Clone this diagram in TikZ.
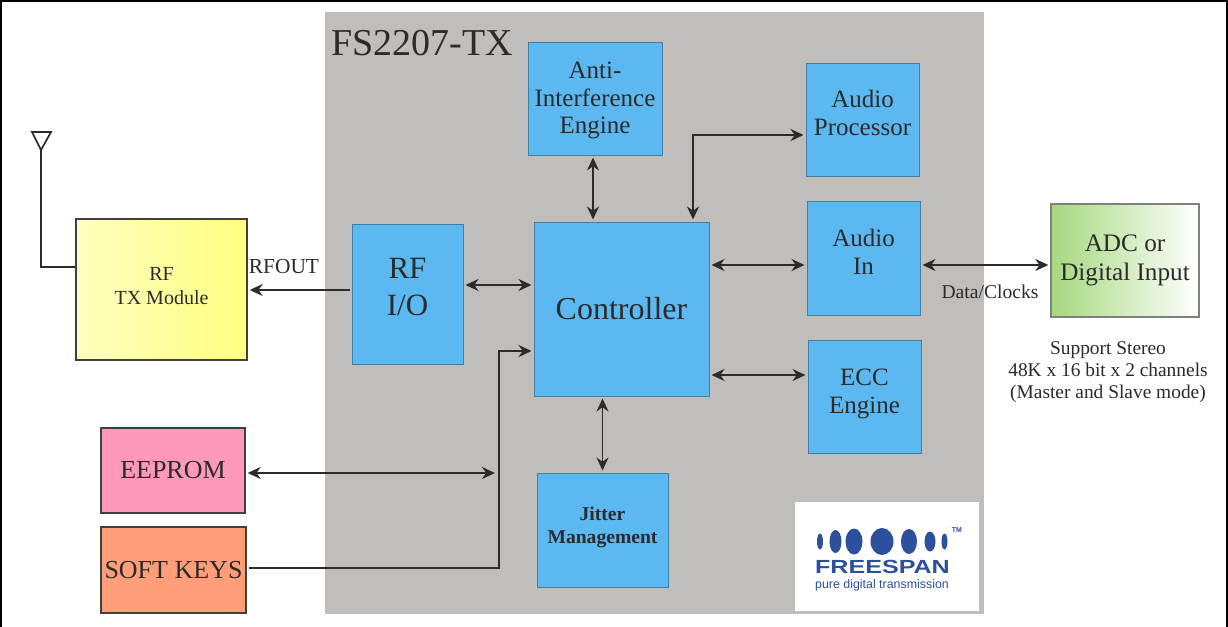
\documentclass[tikz,border=0pt]{standalone}
\usepackage{fontspec}
\setmainfont{Liberation Serif}
\newfontfamily\logofont{Liberation Sans}
\newfontfamily\brandfont[FakeStretch=1.32]{Liberation Sans}
\usetikzlibrary{arrows.meta}
\definecolor{panelgray}{HTML}{C1BDBB}
\definecolor{blockblue}{HTML}{5CB8F0}
\definecolor{blockedge}{HTML}{3E7FA6}
\definecolor{logoblue}{HTML}{2C509C}
\definecolor{linedark}{HTML}{2B2B2B}
\definecolor{txleft}{HTML}{FFFFC0}
\definecolor{txright}{HTML}{FFFF80}
\definecolor{eepromfill}{HTML}{FF99BB}
\definecolor{keysfill}{HTML}{FF9E78}
\definecolor{adcleft}{HTML}{A6D87E}
\newcommand{\liftby}[1]{\rule[-#1]{0pt}{#1}}
\begin{document}
\begin{tikzpicture}[
        x=0.5pt, y=-0.5pt,
        block/.style={rectangle, draw=blockedge, fill=blockblue, align=center, inner sep=0pt, text=linedark, line width=0.5pt, font=\fontsize{12.5}{13.8}\selectfont},
        extbox/.style={rectangle, draw=black!75, align=center, inner sep=0pt, text=linedark, line width=0.7pt},
        line/.style={draw=linedark, {Stealth[length=6.5pt,width=6pt]}-{Stealth[length=6.5pt,width=6pt]}, line width=0.85pt, shorten <=1pt, shorten >=1pt},
        oneway/.style={line, {-Stealth[length=6.5pt,width=6pt]}},
        plain/.style={draw=linedark, line width=0.85pt},
        note/.style={inner sep=0pt, align=center, text=linedark}
    ]
        \useasboundingbox (0,0) rectangle (1228,627);
        \fill [white] (0,0) rectangle (1228,627);
        \node [fill=panelgray, minimum width=329.5pt, minimum height=301pt, inner sep=0pt] (panel) at (654.5,313) {};
        \node [note, font=\fontsize{19}{20}\selectfont] (title) at (422,43) {FS2207-TX};

        \node [block, minimum width=67pt, minimum height=56.5pt] (anti) at (595,98.5) {\rule{0pt}{10.5pt}Anti-\\Interference\\Engine};
        \node [block, minimum width=56.5pt, minimum height=56.5pt] (proc) at (862.5,119.5) {Audio\\Processor\liftby{6.5pt}};
        \node [block, minimum width=56.5pt, minimum height=57pt] (audioin) at (863.5,258) {Audio\\In\liftby{6pt}};
        \node [block, minimum width=56.5pt, minimum height=56.5pt] (ecc) at (864.5,396.5) {ECC\\Engine\liftby{5.1pt}};
        \node [block, minimum width=87.5pt, minimum height=87pt, font=\fontsize{16}{17}\selectfont] (ctrl) at (621.5,309) {Controller};
        \node [block, minimum width=55.5pt, minimum height=70pt, font=\fontsize{15.5}{18.5}\selectfont] (rfio) at (407.5,294) {RF\\I/O\liftby{7.5pt}};
        \node [block, minimum width=65.5pt, minimum height=57pt, font=\fontsize{9.8}{11.5}\selectfont\bfseries] (jitter) at (602.5,530) {Jitter\\Management\liftby{5.2pt}};

        \node [extbox, minimum width=85.5pt, minimum height=70.5pt, left color=txleft, right color=txright, font=\fontsize{10}{12}\selectfont] (txmod) at (161.5,289.5) {RF\\TX Module\liftby{3.5pt}};
        \node [extbox, minimum width=72pt, minimum height=42.5pt, fill=eepromfill, font=\fontsize{13}{15}\selectfont] (eeprom) at (173,470.5) {EEPROM};
        \node [extbox, minimum width=72.5pt, minimum height=43pt, fill=keysfill, font=\fontsize{13}{15}\selectfont] (keys) at (173.5,570) {SOFT KEYS};
        \node [extbox, draw=black!50, minimum width=74pt, minimum height=56.5pt, left color=adcleft, right color=white, font=\fontsize{12.6}{14.5}\selectfont] (adc) at (1125,260.5) {ADC or\\Digital Input};

        \node [note, font=\fontsize{10.7}{12}\selectfont] (rfoutlbl) at (284,267) {RFOUT};
        \node [note, font=\fontsize{9.8}{11}\selectfont] (datalbl) at (990,292) {Data/Clocks};
        \node [note, font=\fontsize{9.7}{11}\selectfont] (stereo) at (1108,372) {Support Stereo\\48K x 16 bit x 2 channels\\(Master and Slave mode)};

        % antenna
        \coordinate (antbase) at (41,150);
        \coordinate (antleft) at (32,132);
        \coordinate (antright) at (51,132);
        \coordinate (antcorner) at (41,267);
        \draw [plain] (antleft) -- (antright) -- (antbase) -- cycle;
        \draw [plain] (antbase) -- (antcorner) -- (txmod.west |- antcorner);

        \path [line] (rfio.east |- 0,285) -- (ctrl.west |- 0,285);
        \path [line] (anti.south -| 593,0) -- (ctrl.north -| 593,0);
        \path [line] (jitter.north) -- (ctrl.south -| jitter.north);
        \coordinate (proccorner) at (693,135);
        \path [line] (ctrl.north -| proccorner) -- (proccorner) -- (proc.west |- proccorner);
        \path [line] (ctrl.east |- 0,265) -- (audioin.west |- 0,265);
        \path [line] (ctrl.east |- 0,375) -- (ecc.west |- 0,375);
        \path [line] (audioin.east |- 0,265) -- (adc.west |- 0,265);
        \path [oneway] (rfio.west |- 0,290) -- (txmod.east |- 0,290);

        \coordinate (keycorner) at (499,568);
        \coordinate (eepromend) at (497,473);
        \path [line] (eeprom.east |- eepromend) -- (eepromend);
        \path [oneway] (keys.east |- keycorner) -- (keycorner) -- (keycorner |- 0,351) -- (ctrl.west |- 0,351);

        % logo
        \node [fill=white, minimum width=92pt, minimum height=54.5pt, inner sep=0pt] (logo) at (887,556.5) {};
        \foreach \cx/\rx/\ry in {820/3/8, 835.5/6/11.5, 854/8.5/13, 882/11.5/13.5, 909/8/12.5, 930/5.5/10, 944.5/3/8}
            \fill [logoblue] (\cx,541.5) ellipse [x radius=\rx, y radius=\ry];
        \node [note, text=logoblue, font=\logofont\fontsize{3.5}{3.5}\selectfont\bfseries] (tm) at (957,530) {TM};
        \node [note, text=logoblue, font=\brandfont\fontsize{9.5}{10}\selectfont\bfseries] (brand) at (882.5,567) {FREESPAN};
        \node [note, text=logoblue, font=\logofont\fontsize{6.2}{6.5}\selectfont] (slogan) at (882,585) {pure digital transmission};

        % frame
        \draw [black, line width=1pt] (1,0) -- (1,627);
        \draw [black, line width=1pt] (1227,0) -- (1227,627);
        \draw [black, line width=1pt] (0,1) -- (1228,1);
    \end{tikzpicture}
\end{document}
